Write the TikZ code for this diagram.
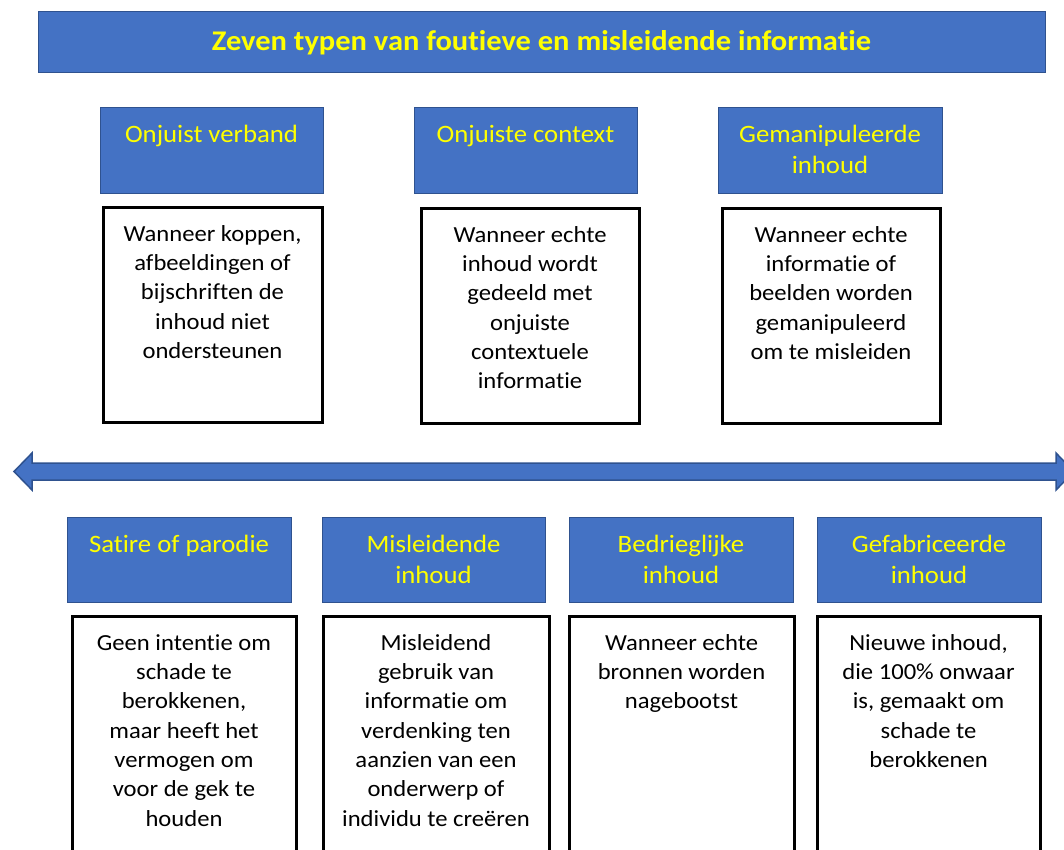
\documentclass[tikz,border=0pt]{standalone}
\usepackage{fontspec}
\setmainfont{Carlito}[FakeStretch=1.07, RawFeature={-liga}]
\definecolor{blueA}{HTML}{4472C4}
\definecolor{blueline}{HTML}{2F528F}
\definecolor{yel}{HTML}{FFFF00}
\newcommand{\hstrut}{\rule{0pt}{20pt}}
\newcommand{\bstrut}{\rule{0pt}{18pt}}
\begin{document}
\begin{tikzpicture}[x=1pt,y=-1pt,
  bluebox/.style={draw=blueline, fill=blueA, line width=1pt, inner sep=0pt, minimum height=86pt},
  whitebox/.style={draw=black, fill=white, line width=3pt, inner sep=0pt},
  hdr/.style={text=yel, font=\fontsize{25}{31}\selectfont, align=center, anchor=north, inner sep=0pt},
  body/.style={text=black, font=\fontsize{23}{29.3}\selectfont, align=center, anchor=north, inner sep=0pt}]
\clip (0,0) rectangle (1064,849);
\fill[white] (0,0) rectangle (1064,849);

% title
\node[bluebox, minimum width=1007pt, minimum height=61pt] (title) at (541.5,41.5) {};
\node[text=yel, font=\bfseries\fontsize{28.5}{34}\selectfont, anchor=base, inner sep=0pt] (titletext) at (541.5,50) {Zeven typen van foutieve en misleidende informatie};

% top row headers
\node[bluebox, minimum width=223pt] (h1) at (211.5,150) {};
\node[bluebox, minimum width=223pt] (h2) at (525.5,150) {};
\node[bluebox, minimum width=224pt] (h3) at (830,150) {};
\node[hdr] (h1t) at (211.5,122) {\hstrut Onjuist verband};
\node[hdr] (h2t) at (525.5,122) {\hstrut Onjuiste context};
\node[hdr] (h3t) at (830,122) {\hstrut Gemanipuleerde\\inhoud};

% top row descriptions
\node[whitebox, minimum width=219pt, minimum height=215pt] (d1) at (212.5,314.5) {};
\node[whitebox, minimum width=218pt, minimum height=215pt] (d2) at (530,315.5) {};
\node[whitebox, minimum width=218pt, minimum height=215pt] (d3) at (831,315.5) {};
\node[body] (d1t) at (212.5,223) {\bstrut Wanneer koppen,\\afbeeldingen of\\bijschriften de\\inhoud niet\\ondersteunen};
\node[body] (d2t) at (530,224) {\bstrut Wanneer echte\\inhoud wordt\\gedeeld met\\onjuiste\\contextuele\\informatie};
\node[body] (d3t) at (831,224) {\bstrut Wanneer echte\\informatie of\\beelden worden\\gemanipuleerd\\om te misleiden};

% double arrow
\filldraw[fill=blueA, draw=blueline, line width=1.5pt, line join=miter]
  (14,471.5) -- (32,453) -- (32,463) -- (1056,463) -- (1056,453) -- (1074,471.5)
  -- (1056,490) -- (1056,480) -- (32,480) -- (32,490) -- cycle;

% bottom row headers
\node[bluebox, minimum width=224pt, minimum height=85pt] (h4) at (179,559.5) {};
\node[bluebox, minimum width=223pt, minimum height=85pt] (h5) at (433.5,559.5) {};
\node[bluebox, minimum width=224pt, minimum height=85pt] (h6) at (681,559.5) {};
\node[bluebox, minimum width=224pt, minimum height=85pt] (h7) at (929,559.5) {};
\node[hdr] (h4t) at (179,532) {\hstrut Satire of parodie};
\node[hdr] (h5t) at (433.5,532) {\hstrut Misleidende\\inhoud};
\node[hdr] (h6t) at (681,532) {\hstrut Bedrieglijke\\inhoud};
\node[hdr] (h7t) at (929,532) {\hstrut Gefabriceerde\\inhoud};

% bottom row descriptions
\node[whitebox, minimum width=224pt, minimum height=254pt] (d4) at (184,743) {};
\node[whitebox, minimum width=226pt, minimum height=254pt] (d5) at (436,743) {};
\node[whitebox, minimum width=225pt, minimum height=254pt] (d6) at (681.5,743) {};
\node[whitebox, minimum width=223pt, minimum height=254pt] (d7) at (928.5,743) {};
\node[body] (d4t) at (184,632) {\bstrut Geen intentie om\\schade te\\berokkenen,\\maar heeft het\\vermogen om\\voor de gek te\\houden};
\node[body] (d5t) at (436,632) {\bstrut Misleidend\\gebruik van\\informatie om\\verdenking ten\\aanzien van een\\onderwerp of\\individu te creëren};
\node[body] (d6t) at (681.5,632) {\bstrut Wanneer echte\\bronnen worden\\nagebootst};
\node[body] (d7t) at (928.5,632) {\bstrut Nieuwe inhoud,\\die 100\% onwaar\\is, gemaakt om\\schade te\\berokkenen};
\end{tikzpicture}
\end{document}
